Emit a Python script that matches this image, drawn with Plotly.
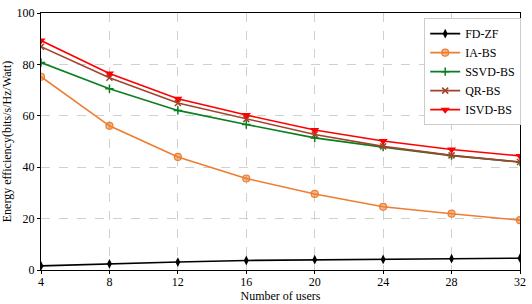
import plotly.graph_objects as go

users = [4, 8, 12, 16, 20, 24, 28, 32]
fd_zf = [1.6, 2.4, 3.1, 3.7, 4.0, 4.1, 4.4, 4.6]
ia_bs = [75.2, 56.1, 44.0, 35.6, 29.6, 24.6, 21.9, 19.4]
ssvd_bs = [80.7, 70.5, 62.1, 56.6, 51.4, 47.8, 44.5, 42.0]
qr_bs = [86.9, 74.8, 65.0, 58.7, 52.7, 48.1, 44.6, 42.0]
isvd_bs = [89.3, 76.5, 66.6, 60.3, 54.5, 50.2, 46.9, 44.4]

x_ticks = [4, 8, 12, 16, 20, 24, 28, 32]
y_ticks = [0, 20, 40, 60, 80, 100]

FONT = "Liberation Serif"

series = [
    ("FD-ZF", fd_zf, "#000000", dict(symbol="diamond-tall", size=7, color="#000000")),
    ("IA-BS", ia_bs, "#ED7D31", dict(symbol="circle", size=7, color="rgba(237,125,49,0.55)",
                                       line=dict(color="#ED7D31", width=1.2))),
    ("SSVD-BS", ssvd_bs, "#0A7F1E", dict(symbol="cross-thin", size=6, color="#0A7F1E",
                                           line=dict(color="#0A7F1E", width=1.5))),
    ("QR-BS", qr_bs, "#A0442C", dict(symbol="x-thin", size=6, color="#A0442C",
                                       line=dict(color="#A0442C", width=1.5))),
    ("ISVD-BS", isvd_bs, "#FF0000", dict(symbol="triangle-down", size=8, color="#FF0000")),
]

fig = go.Figure()
for name, vals, col, mk in series:
    fig.add_trace(go.Scatter(x=users, y=vals, name=name, mode="lines+markers",
                             line=dict(color=col, width=1.6), marker=mk))

axis_common = dict(
    showline=True, linecolor="#000000", linewidth=1, mirror=True,
    ticks="outside", ticklen=3, tickcolor="#000000",
    showgrid=True, gridcolor="#d0d0d0", griddash="dash", gridwidth=1,
    zeroline=False, tickfont=dict(family=FONT, size=12, color="#000000"),
)

fig.update_layout(
    width=532, height=304,
    margin=dict(l=38, r=7, t=6, b=31),
    paper_bgcolor="white", plot_bgcolor="white",
    font=dict(family=FONT, size=12, color="#000000"),
    xaxis=dict(range=[4, 32], tickvals=x_ticks, ticklabelstandoff=-2,
               title=dict(text="Number of users", font=dict(family=FONT, size=12), standoff=0),
               **axis_common),
    yaxis=dict(range=[0, 100], tickvals=y_ticks,
               title=dict(text="Energy efficiency(bits/s/Hz/Watt)", font=dict(family=FONT, size=12), standoff=2),
               **axis_common),
    legend=dict(x=0.8, y=0.98, xanchor="left", yanchor="top",
                bgcolor="white", bordercolor="#cccccc", borderwidth=1,
                font=dict(family=FONT, size=12), itemwidth=30, tracegroupgap=0),
)

fig.write_html(
    "out.html",
    config={"displayModeBar": False},
    post_script="document.body.style.margin='0';document.body.style.padding='0';document.body.style.overflow='hidden';",
)
